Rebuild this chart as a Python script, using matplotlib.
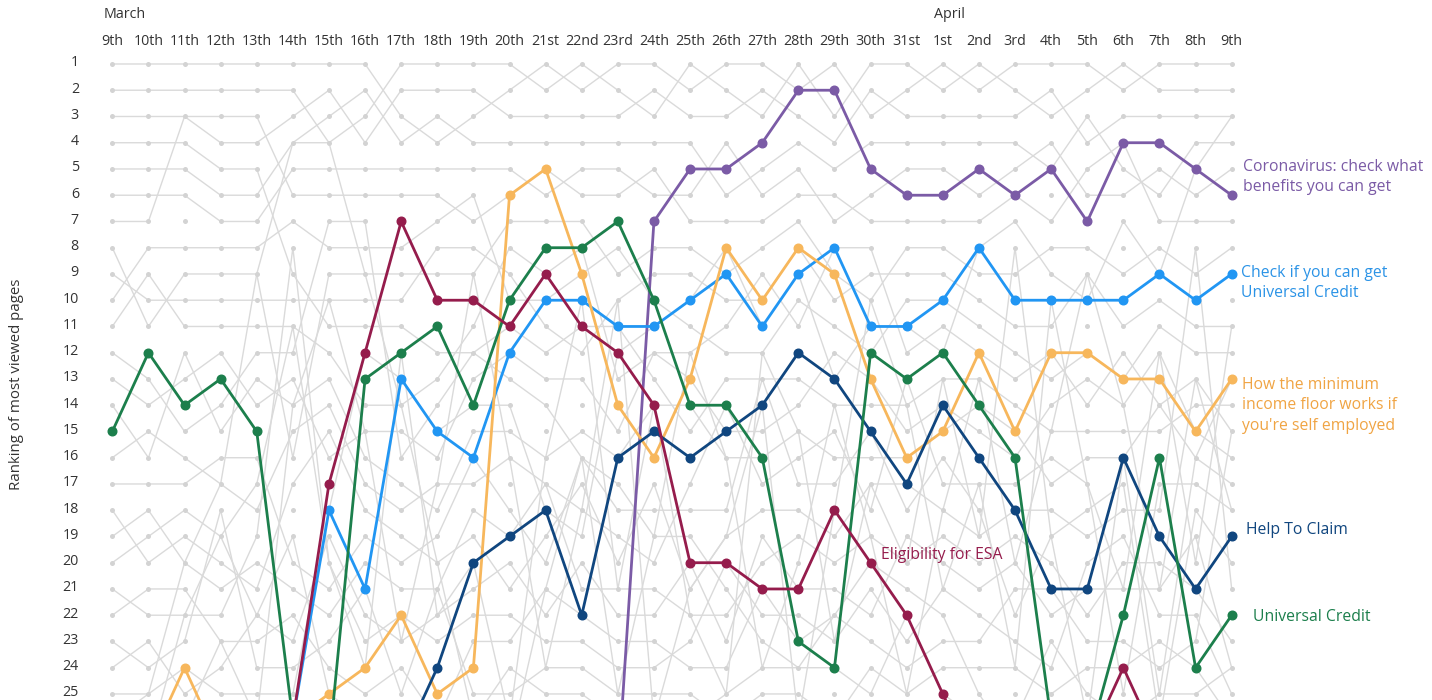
import numpy as np
import matplotlib
matplotlib.use("Agg")
import matplotlib.pyplot as plt
import matplotlib.transforms as mtransforms

nan = np.nan

# ── data ──────────────────────────────────────────────────────────────
day_labels = ['9th', '10th', '11th', '12th', '13th', '14th', '15th', '16th', '17th',
              '18th', '19th', '20th', '21st', '22nd', '23rd', '24th', '25th', '26th',
              '27th', '28th', '29th', '30th', '31st', '1st', '2nd', '3rd', '4th',
              '5th', '6th', '7th', '8th', '9th']
month_labels = ['March', 'April']
month_start = [0, 23]
ranks = list(range(1, 26))

# highlighted pages (rank per day, >25 = outside the top 25, nan = not listed)
coronavirus = [nan] * 14 + [28, 7, 5, 5, 4, 2, 2, 5, 6, 6, 5, 6, 5, 7, 4, 4, 5, 6]
check_uc = [nan] * 5 + [26, 18, 21, 13, 15, 16, 12, 10, 10, 11, 11, 10, 9, 11, 9, 8,
                        11, 11, 10, 8, 10, 10, 10, 10, 9, 10, 9]
min_income = [27, 27, 24, 27, 28, 26, 25, 24, 22, 25, 24, 6, 5, 9, 14, 16, 13, 8, 10, 8,
              9, 13, 16, 15, 12, 15, 12, 12, 13, 13, 15, 13]
help_to_claim = [nan] * 8 + [27, 24, 20, 19, 18, 22, 16, 15, 16, 15, 14, 12, 13, 15, 17,
                             14, 16, 18, 21, 21, 16, 19, 21, 19]
universal_credit = [15, 12, 14, 13, 15, 26, 27, 13, 12, 11, 14, 10, 8, 8, 7, 10, 14, 14,
                    16, 23, 24, 12, 13, 12, 14, 16, 26, 27, 22, 16, 24, 22]
esa = [nan] * 5 + [26, 17, 12, 7, 10, 10, 11, 9, 11, 12, 14, 20, 20, 21, 21, 18, 20, 22,
                   25, 28, 28, 27, 27, 24, 27, 28, 28]

# the other pages (grey)
grey_pages = [
    [1, 1, 1, 1, 1, 1, 1, 1, 3, 4, 3, 2, 1, 2, 1, 1, 2, 1, 1, 2, 1, 3, 2, 1, 2, 1, 1, 1, 2, 1, 1, 1],
    [2, 2, 2, 2, 2, 2, 4, 3, 1, 1, 1, 1, 2, 1, 2, 3, 1, 2, 3, 1, 3, 1, 1, 2, 1, 2, 3, 2, 1, 2, 2, 2],
    [3, 3, 3, 4, 4, 3, 2, 4, 2, 2, 2, 3, 3, 3, 3, 2, 3, 3, 2, 3, 4, 2, 3, 3, 3, 3, 2, 4, 3, 3, 3, 3],
    [4, 4, 4, 5, 5, 9, 11, 11, 11, 12, 12, 13, 14, 16, 17, 19, 19, 21, 23, 24, 22, 20, 21, 22, 25, 27, 28, 28, 28, 28, 28, 28],
    [5, 5, 5, 6, 6, 4, 3, 2, 4, 3, 4, 4, 4, 4, 4, 4, 4, 6, 5, 4, 5, 4, 4, 4, 4, 4, 5, 3, 5, 6, 4, 4],
    [6, 6, 6, 7, 7, 5, 5, 5, 5, 5, 5, 5, 6, 5, 5, 6, 6, 4, 6, 5, 7, 6, 5, 5, 6, 5, 4, 6, 6, 5, 6, 5],
    [7, 7, 3, 3, 3, 6, 6, 6, 6, 6, 7, 6, 5, 6, 6, 5, 7, 7, 7, 6, 6, 7, 7, 7, 7, 6, 7, 5, 4, 7, 7, 7],
    [8, 11, 9, 9, 9, 16, 9, 9, 9, 9, 9, 7, 7, 7, 9, 8, 8, 9, 8, 7, 9, 10, 8, 8, 9, 9, 8, 8, 9, 8, 9, 8],
    [9, 10, 10, 10, 10, 10, 10, 10, 10, 8, 8, 9, 11, 12, 10, 9, 9, 10, 10, 8, 10, 9, 9, 9, 10, 11, 11, 9, 11, 10, 11, 11],
    [10, 8, 8, 8, 8, 7, 8, 8, 8, 7, 6, 10, 10, 9, 8, 10, 11, 12, 12, 10, 11, 12, 10, 10, 11, 12, 13, 12, 13, 11, 12, 12],
    [11, 9, 11, 11, 11, 11, 12, 14, 14, 13, 11, 8, 9, 8, 13, 12, 12, 11, 9, 11, 8, 8, 12, 11, 12, 13, 12, 14, 12, 14, 13, 15],
    [12, 13, 15, 14, 12, 12, 7, 7, 16, 14, 12, 11, 12, 11, 11, 13, 15, 13, 13, 13, 14, 14, 14, 13, 13, 14, 15, 15, 15, 15, 14, 14],
    [13, 14, 13, 12, 14, 13, 16, 15, 15, 16, 13, 12, 13, 13, 15, 12, 13, 15, 15, 14, 12, 13, 15, 14, 15, 16, 14, 13, 14, 12, 15, 16],
    [14, 16, 12, 15, 13, 14, 13, 16, 17, 18, 15, 15, 16, 15, 16, 14, 14, 16, 16, 15, 16, 16, 16, 15, 14, 15, 17, 16, 16, 14, 16, 17],
    [16, 15, 16, 17, 18, 15, 14, 17, 18, 17, 17, 16, 17, 18, 19, 20, 17, 14, 17, 16, 15, 18, 13, 17, 17, 17, 16, 17, 25, 17, 17, 18],
    [17, 17, 17, 16, 16, 20, 21, 19, 20, 19, 16, 18, 20, 16, 18, 18, 18, 18, 13, 17, 17, 15, 18, 16, 18, 22, 19, 18, 17, 26, 18, 20],
    [18, 20, 19, 20, 21, 17, 15, 18, 19, 20, 19, 21, 19, 17, 20, 17, 21, 19, 18, 18, 19, 17, 17, 18, 19, 18, 18, 19, 18, 18, 8, 21],
    [19, 18, 20, 21, 20, 21, 22, 20, 21, 21, 18, 19, 17, 21, 21, 21, 22, 22, 20, 19, 20, 19, 20, 19, 20, 19, 20, 22, 20, 20, 21, 23],
    [20, 19, 18, 19, 22, 23, 19, 22, 23, 22, 21, 20, 22, 20, 22, 22, 20, 23, 19, 21, 21, 22, 19, 20, 21, 20, 22, 21, 21, 21, 19, 24],
    [21, 22, 22, 22, 19, 8, 20, 23, 22, 23, 22, 22, 23, 23, 24, 24, 23, 20, 22, 22, 23, 21, 23, 21, 22, 23, 24, 20, 19, 22, 22, 25],
    [22, 21, 21, 23, 23, 22, 24, 25, 24, 26, 23, 23, 21, 22, 23, 23, 24, 24, 21, 23, 22, 23, 24, 23, 23, 21, 21, 23, 23, 24, 23, 15],
    [23, 24, 23, 18, 24, 24, 23, 21, 25, 21, 25, 25, 24, 24, 25, 25, 25, 26, 25, 25, 26, 24, 25, 24, 24, 24, 25, 24, 24, 23, 24, 26],
    [24, 23, 25, 24, 22, 19, 25, 26, 27, 27, 26, 24, 25, 25, 26, 26, 26, 25, 24, 24, 24, 25, 22, 25, 26, 26, 23, 25, 26, 25, 25, 24],
    [25, 25, 24, 25, 25, 25, 18, 12, 13, 15, 14, 14, 18, 19, 12, 11, 10, 8, 11, 9, 13, 11, 11, 12, 8, 7, 9, 10, 7, 9, 5, 3],
    [26, 25, 20, 17, 9, 4, 4, 9, 14, 20, 26, 27, 21, 16, 25, 19, 12, 16, 24, 20, 14, 19, 25, 18, 13, 20, 15, 9, 14, 21, 13, 18],
    [27, 26, 26, 23, 26, 14, 10, 15, 23, 17, 9, 16, 24, 18, 10, 26, 21, 19, 14, 26, 18, 10, 14, 21, 17, 24, 10, 17, 21, 12, 20, 11],
    [28, 27, 22, 19, 17, 11, 20, 24, 12, 22, 20, 26, 16, 10, 21, 14, 22, 25, 12, 15, 23, 17, 20, 13, 19, 8, 19, 26, 16, 25, 16, 13],
]

highlights = [
    (coronavirus, '#7b5ba6', 'Coronavirus: check what\nbenefits you can get', 31.31, 5.3),
    (check_uc, '#2196f3', 'Check if you can get\nUniversal Credit', 31.26, 9.35),
    (min_income, '#f7b75c', "How the minimum\nincome floor works if\nyou're self employed", 31.29, 14.0),
    (help_to_claim, '#10467f', 'Help To Claim', 31.40, 18.75),
    (universal_credit, '#1c7f4c', 'Universal Credit', 31.60, 22.05),
    (esa, '#951c4c', 'Eligibility for ESA', 21.29, 19.7),
]
label_colors = ['#7b5ba6', '#2b93e6', '#f0a443', '#10467f', '#1c7f4c', '#951c4c']

# ── figure ────────────────────────────────────────────────────────────
plt.rcParams['font.family'] = ['Open Sans', 'DejaVu Sans']
fig = plt.figure(figsize=(14.32, 7.0), dpi=100)
ax = fig.add_axes([0.06582, 0.0, 0.8069, 0.9311])

days = np.arange(len(day_labels))

for page in grey_pages:
    ax.plot(days, page, color='#dadada', lw=1.0, zorder=1)

gx, gy = np.meshgrid(days, ranks)
ax.plot(gx.ravel(), gy.ravel(), 'o', color='#d3d3d3', ms=3.6, mec='none', zorder=2)

for (vals, col, label, lx, ly), tcol in zip(highlights, label_colors):
    ax.plot(days, vals, color=col, lw=2.0, marker='o', ms=6.2, mec=col,
            solid_joinstyle='round', zorder=4)
    ax.text(lx, ly, label, color=tcol, fontsize=11.3, ha='left', va='center',
            linespacing=1.38, clip_on=False, zorder=5)

ax.set_xlim(-0.5, 31.5)
ax.set_ylim(25.23, 0.4)
ax.set_xticks(days)
ax.set_xticklabels(day_labels)
ax.set_yticks(ranks)
ax.set_yticklabels([str(r) for r in ranks])
ax.tick_params(axis='x', top=True, labeltop=True, bottom=False, labelbottom=False,
               length=0, pad=-0.8, labelsize=10.3, colors='#333333')
ax.tick_params(axis='y', left=True, length=0, pad=11, labelsize=10.3, colors='#333333')

# rank labels sit a few pixels above their row of dots
shift = mtransforms.ScaledTranslation(0, 3 / 100, fig.dpi_scale_trans)
for lbl in ax.get_yticklabels():
    lbl.set_transform(lbl.get_transform() + shift)

for s in ax.spines.values():
    s.set_visible(False)

# month names above the day labels
for m, d in zip(month_labels, month_start):
    ax.annotate(m, xy=(d, 1 - 15 / 700), xycoords=('data', 'figure fraction'),
                xytext=(-6, 0), textcoords='offset points', fontsize=10.3,
                color='#333333', ha='left', va='center', annotation_clip=False)

fig.text(17 / 1432, 1 - 384 / 700, 'Ranking of most viewed pages', rotation=90,
         ha='center', va='center', fontsize=10.8, color='#333333')

fig.savefig('out.png', dpi=100, facecolor='white')
